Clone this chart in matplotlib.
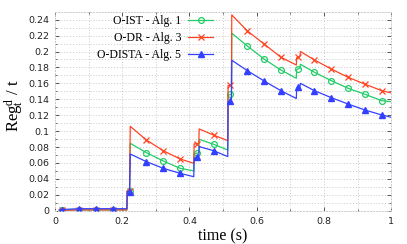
import numpy as np
import matplotlib
matplotlib.use("Agg")
import matplotlib.pyplot as plt

# time samples (s), shared by the three algorithms
t = [0.013, 0.022, 0.072, 0.122, 0.172, 0.214,
     0.215, 0.222, 0.224,
     0.272, 0.322, 0.372, 0.413,
     0.414, 0.422, 0.428,
     0.429, 0.472, 0.514,
     0.515, 0.522, 0.525,
     0.526, 0.572, 0.622, 0.672, 0.718,
     0.719, 0.722, 0.729,
     0.730, 0.772, 0.822, 0.872, 0.922, 0.972, 1.0]

ist = [0.0005, 0.0008, 0.001, 0.001, 0.001, 0.001,
       0.025, 0.025, 0.0847,
       0.0729, 0.0625, 0.0533, 0.050,
       0.072, 0.072, 0.073,
       0.0897, 0.0834, 0.0763,
       0.145, 0.146, 0.146,
       0.223, 0.207, 0.1906, 0.1768, 0.1664,
       0.177, 0.178, 0.179,
       0.184, 0.1739, 0.1634, 0.1538, 0.1463, 0.1382, 0.137]

dr = [0.0005, 0.0005, 0.001, 0.001, 0.001, 0.001,
      0.025, 0.025, 0.106,
      0.0888, 0.0754, 0.065, 0.0595,
      0.084, 0.084, 0.085,
      0.1027, 0.095, 0.088,
      0.157, 0.158, 0.158,
      0.246, 0.226, 0.2095, 0.1928, 0.183,
      0.192, 0.193, 0.194,
      0.200, 0.1894, 0.178, 0.1676, 0.159, 0.1508, 0.148]

dista = [0.001, 0.0015, 0.0025, 0.0025, 0.0025, 0.0025,
         0.024, 0.024, 0.0712,
         0.0616, 0.0533, 0.047, 0.0427,
         0.066, 0.067, 0.068,
         0.0805, 0.0754, 0.068,
         0.137, 0.138, 0.138,
         0.189, 0.176, 0.163, 0.1508, 0.141,
         0.154, 0.155, 0.156,
         0.160, 0.1508, 0.142, 0.134, 0.1265, 0.1203, 0.1174]

xticks = [0, 0.2, 0.4, 0.6, 0.8, 1.0]
xticklabels = ['0', '0.2', '0.4', '0.6', '0.8', '1']
yticks = [0, 0.02, 0.04, 0.06, 0.08, 0.1, 0.12, 0.14, 0.16, 0.18, 0.2, 0.22, 0.24]
yticklabels = ['0', '0.02', '0.04', '0.06', '0.08', '0.1', '0.12', '0.14',
               '0.16', '0.18', '0.2', '0.22', '0.24']

# markers every 0.05 s starting at 0.022
mark_times = [0.022 + 0.05 * k for k in range(20)]
tt = np.array(t)
marks = [int(np.argmin(np.abs(tt - m))) for m in mark_times]

plt.rcParams['mathtext.fontset'] = 'custom'
plt.rcParams['mathtext.rm'] = 'Liberation Serif'

fig = plt.figure(figsize=(4.07, 2.44), dpi=100)
ax = fig.add_axes([0.135, 0.1365, 0.826, 0.8155])

ax.plot(t, ist, color='#22cc66', lw=0.9, marker='o', ms=4.2, mfc='none', mew=0.9,
        markevery=marks, label='O-IST - Alg. 1')
ax.plot(t, dr, color='#ff4422', lw=0.9, marker='x', ms=4.5, mew=0.9,
        markevery=marks, label='O-DR - Alg. 3')
ax.plot(t, dista, color='#3340ff', lw=0.9, marker='^', ms=4.2,
        markevery=marks, label='O-DISTA - Alg. 5')

ax.set_xlim(0, 1)
ax.set_ylim(0, 0.25)
ax.set_xticks(xticks)
ax.set_xticklabels(xticklabels)
ax.set_xticks([0.1, 0.3, 0.5, 0.7, 0.9], minor=True)
ax.set_yticks(yticks)
ax.set_yticklabels(yticklabels)
ax.set_yticks([0.01 + 0.02 * k for k in range(12)], minor=True)

ax.grid(True, which='both', color='#c8c8c8', linestyle=(0, (1, 2)), lw=0.7)
for s in ax.spines.values():
    s.set_color('#c8c8c8')
    s.set_linestyle((0, (1, 2)))
    s.set_linewidth(0.7)

ax.tick_params(which='both', direction='in', top=True, right=True, color='#555555',
               labelsize=6.8, labelcolor='#222222')
ax.tick_params(which='major', length=3, width=0.7)
ax.tick_params(which='minor', length=1.5, width=0.6)
ax.tick_params(axis='x', pad=4.5)
ax.tick_params(axis='y', pad=4)

ax.set_xlabel('time (s)', family='Liberation Serif', fontsize=11.5, labelpad=2)
ax.set_ylabel(r'Reg$\mathrm{_t^d}$ / t', family='Liberation Serif', fontsize=12,
              va='center')
ax.yaxis.set_label_coords(-0.12, 0.53)

ax.legend(loc='upper right', bbox_to_anchor=(0.47, 0.985), frameon=False,
          markerfirst=False, prop={'family': 'Liberation Serif', 'size': 8.5},
          handlelength=2.1, handletextpad=0.6, labelspacing=0.45,
          borderpad=0, borderaxespad=0)

fig.savefig('out.png', dpi=100)
